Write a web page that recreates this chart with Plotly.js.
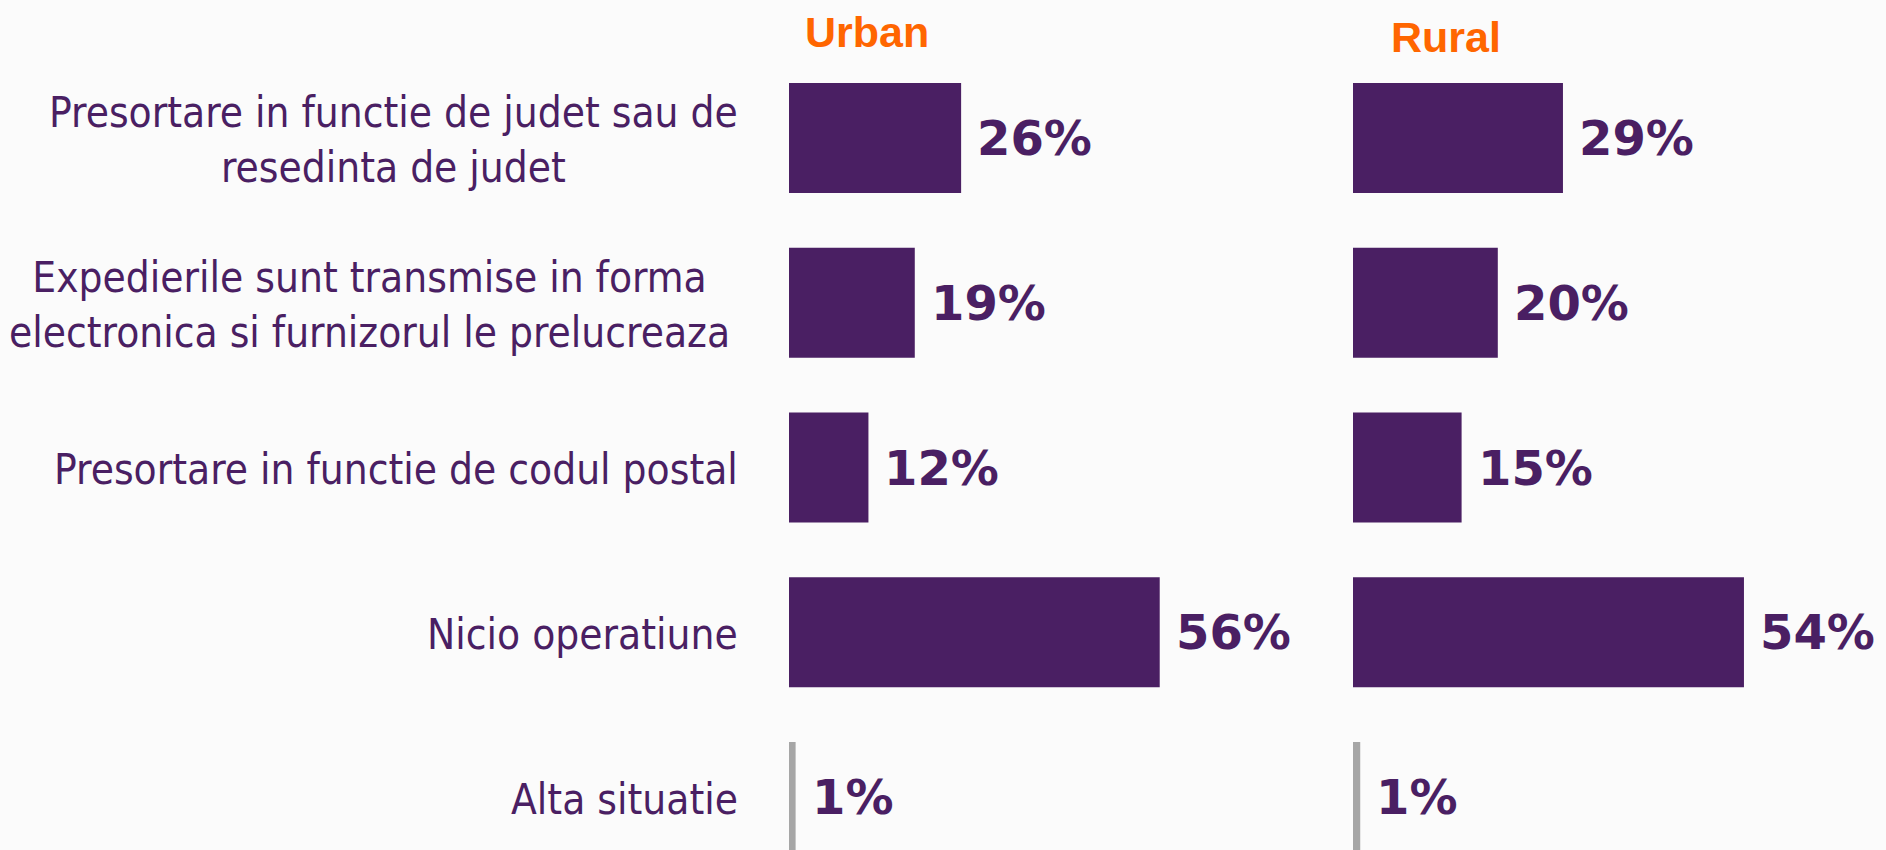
<!DOCTYPE html>
<html>
<head>
<meta charset="utf-8">
<script src="https://cdn.plot.ly/plotly-3.0.1.min.js"></script>
<style>
  html, body { margin: 0; padding: 0; background: #FBFBFB; }
  #chart { width: 1886px; height: 850px; }
</style>
</head>
<body>
<div id="chart"></div>
<script>
// ---- data ----
const categories = [
  "Presortare in functie de judet sau de<br>resedinta de judet",
  "Expedierile sunt transmise in forma<br>electronica si furnizorul le prelucreaza",
  "Presortare in functie de codul postal",
  "Nicio operatiune",
  "Alta situatie"
];
const panelTitles = ["Urban", "Rural"];
const urbanValues = [26, 19, 12, 56, 1];
const ruralValues = [29, 20, 15, 54, 1];
const urbanLabels = ["26%", "19%", "12%", "56%", "1%"];
const ruralLabels = ["29%", "20%", "15%", "54%", "1%"];

// ---- style ----
const W = 1886, H = 850;
const PURPLE = "#4A1F63";
const GRAY = "#A6A6A6";
const ORANGE = "#FF6600";
const BG = "#FBFBFB";
const otherCat = "Alta situatie";
const barColors = categories.map(c => c === otherCat ? GRAY : PURPLE);
const catIdx = categories.map((c, i) => i);

// pixel geometry of the panels
const urbanStart = 789, urbanEnd = 1320, urbanPxPer = 6.62;
const ruralStart = 1353, ruralEnd = 1886, ruralPxPer = 7.24;
const labelRight = 740;
const labelShift = [0, -8, 0, 0, 0];

const traces = [
  {
    type: "bar", orientation: "h",
    x: urbanValues, y: catIdx,
    xaxis: "x", yaxis: "y",
    width: 0.668,
    marker: { color: barColors, line: { width: 0 } },
    hoverinfo: "skip", showlegend: false
  },
  {
    type: "bar", orientation: "h",
    x: ruralValues, y: catIdx,
    xaxis: "x2", yaxis: "y",
    width: 0.668,
    marker: { color: barColors, line: { width: 0 } },
    hoverinfo: "skip", showlegend: false
  }
];

const annotations = [];
// category labels
categories.forEach((c, i) => {
  annotations.push({
    text: c, x: labelRight / W, xref: "paper", xanchor: "right",
    y: i, yref: "y", yanchor: "middle",
    xshift: labelShift[i], yshift: -2,
    align: "center", showarrow: false,
    font: { family: "'DejaVu Sans Condensed', 'DejaVu Sans', sans-serif", size: 42, color: PURPLE }
  });
});
// value labels
const valueFont = { family: "'DejaVu Sans', sans-serif", size: 48, color: PURPLE, weight: "bold" };
urbanValues.forEach((v, i) => {
  annotations.push({
    text: urbanLabels[i], x: v, xref: "x", xanchor: "left", xshift: 14,
    y: i, yref: "y", yanchor: "middle", yshift: 0,
    showarrow: false, font: valueFont
  });
});
ruralValues.forEach((v, i) => {
  annotations.push({
    text: ruralLabels[i], x: v, xref: "x2", xanchor: "left", xshift: 14,
    y: i, yref: "y", yanchor: "middle", yshift: 0,
    showarrow: false, font: valueFont
  });
});
// panel titles
const titleFont = { family: "'Liberation Sans', Arial, sans-serif", size: 43, color: ORANGE, weight: "bold" };
annotations.push({
  text: panelTitles[0], x: 867 / W, xref: "paper", xanchor: "center",
  y: 1 - 32 / H, yref: "paper", yanchor: "middle", showarrow: false, font: titleFont
});
annotations.push({
  text: panelTitles[1], x: 1446 / W, xref: "paper", xanchor: "center",
  y: 1 - 37 / H, yref: "paper", yanchor: "middle", showarrow: false, font: titleFont
});

const hiddenAxis = { showgrid: false, zeroline: false, showline: false, showticklabels: false, ticks: "", fixedrange: true };

// y geometry: category 0 center at 138px, pitch 164.75px, plot covers 0..850
const pitch = 164.75, c0 = 138.0;
const yTop = -(c0 / pitch);
const yBottom = yTop + H / pitch;

const layout = {
  width: W, height: H,
  margin: { l: 0, r: 0, t: 0, b: 0, pad: 0 },
  paper_bgcolor: BG, plot_bgcolor: BG,
  showlegend: false,
  xaxis: Object.assign({}, hiddenAxis, {
    domain: [urbanStart / W, urbanEnd / W], anchor: "y",
    range: [0, (urbanEnd - urbanStart) / urbanPxPer]
  }),
  xaxis2: Object.assign({}, hiddenAxis, {
    domain: [ruralStart / W, ruralEnd / W], anchor: "y",
    range: [0, (ruralEnd - ruralStart) / ruralPxPer]
  }),
  yaxis: Object.assign({}, hiddenAxis, {
    type: "linear", range: [yBottom, yTop]
  }),
  annotations: annotations
};

Plotly.newPlot("chart", traces, layout, { displayModeBar: false, staticPlot: true });
</script>
</body>
</html>
